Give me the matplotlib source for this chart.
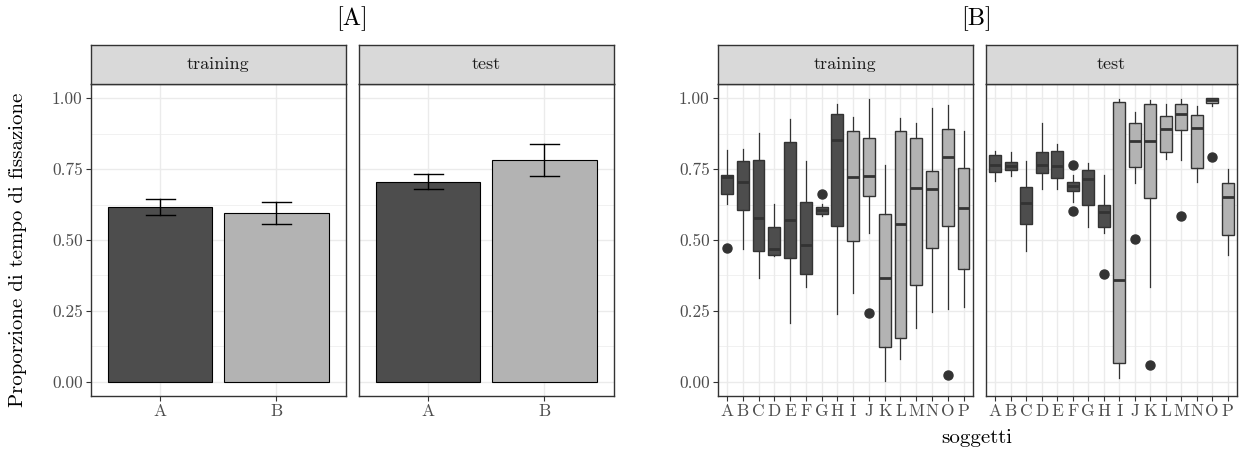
import matplotlib.pyplot as plt

plt.rcParams['font.family'] = ['cmr10', 'DejaVu Serif']
plt.rcParams['axes.formatter.use_mathtext'] = True

# [A] medie e intervalli
fasi = ['training', 'test']
gruppi = ['A', 'B']
medie = {'training': [0.618, 0.596], 'test': [0.705, 0.782]}
err_basso = {'training': [0.588, 0.556], 'test': [0.680, 0.726]}
err_alto = {'training': [0.645, 0.635], 'test': [0.731, 0.839]}

# [B] boxplot per soggetto
soggetti = list('ABCDEFGHIJKLMNOP')
gruppo_sogg = ['A'] * 8 + ['B'] * 8
box_train = {
    'whislo': [0.627, 0.469, 0.366, 0.442, 0.209, 0.335, 0.584, 0.240, 0.314, 0.525, 0.004, 0.082, 0.191, 0.246, 0.256, 0.264],
    'q1':     [0.662, 0.607, 0.460, 0.447, 0.438, 0.381, 0.592, 0.551, 0.495, 0.654, 0.121, 0.156, 0.342, 0.471, 0.549, 0.399],
    'med':    [0.722, 0.703, 0.577, 0.467, 0.570, 0.483, 0.607, 0.852, 0.723, 0.727, 0.366, 0.558, 0.682, 0.681, 0.791, 0.612],
    'q3':     [0.728, 0.780, 0.783, 0.545, 0.846, 0.633, 0.618, 0.945, 0.886, 0.858, 0.592, 0.883, 0.860, 0.744, 0.892, 0.753],
    'whishi': [0.816, 0.821, 0.877, 0.628, 0.927, 0.777, 0.628, 0.980, 0.933, 0.996, 0.764, 0.930, 0.914, 0.964, 0.977, 0.883],
    'fliers': [[0.472], [], [], [], [], [], [0.661], [], [], [0.243], [], [], [], [], [0.023], []],
}
box_test = {
    'whislo': [0.709, 0.725, 0.461, 0.681, 0.679, 0.633, 0.546, 0.525, 0.014, 0.701, 0.333, 0.785, 0.781, 0.705, 0.972, 0.447],
    'q1':     [0.739, 0.746, 0.555, 0.735, 0.717, 0.674, 0.623, 0.547, 0.067, 0.756, 0.648, 0.812, 0.887, 0.754, 0.984, 0.519],
    'med':    [0.764, 0.762, 0.630, 0.763, 0.760, 0.692, 0.716, 0.598, 0.360, 0.850, 0.850, 0.892, 0.944, 0.894, 0.994, 0.653],
    'q3':     [0.800, 0.776, 0.688, 0.811, 0.815, 0.703, 0.747, 0.624, 0.987, 0.913, 0.979, 0.938, 0.978, 0.941, 1.000, 0.701],
    'whishi': [0.815, 0.809, 0.780, 0.912, 0.839, 0.730, 0.771, 0.729, 0.996, 0.951, 0.992, 0.979, 0.996, 0.971, 1.000, 0.751],
    'fliers': [[], [], [], [], [], [0.764, 0.601], [], [0.379], [], [0.505], [0.059], [], [0.583], [], [0.791], []],
}
box_dati = {'training': box_train, 'test': box_test}

colori = {'A': '#4D4D4D', 'B': '#B3B3B3'}
W, H = 1239, 455
fig = plt.figure(figsize=(W / 100, H / 100), dpi=100)


def assi(x0, y0, x1, y1):
    return fig.add_axes([x0 / W, 1 - y1 / H, (x1 - x0) / W, (y1 - y0) / H])


def stile(ax, nomi, mostra_y):
    ax.set_ylim(-0.05, 1.05)
    ax.set_xlim(0.4, len(nomi) + 0.6)
    ax.set_xticks(range(1, len(nomi) + 1))
    ax.set_xticklabels(nomi)
    ax.set_yticks([0, 0.25, 0.5, 0.75, 1.0])
    ax.set_yticks([0.125, 0.375, 0.625, 0.875], minor=True)
    ax.set_xticks([], minor=True)
    ax.grid(True, which='major', color='#EBEBEB', lw=1.0, zorder=0)
    ax.grid(True, which='minor', axis='y', color='#EBEBEB', lw=0.5, zorder=0)
    ax.set_axisbelow(True)
    for s in ax.spines.values():
        s.set_color('#333333')
        s.set_linewidth(1.0)
    ax.tick_params(which='major', length=3.6, color='#333333', labelcolor='#4D4D4D',
                   labelsize=12.5, pad=2)
    ax.tick_params(which='minor', length=0)
    if mostra_y:
        ax.set_yticklabels(['0.00', '0.25', '0.50', '0.75', '1.00'])
    else:
        ax.tick_params(axis='y', which='major', length=0, labelleft=False)


def striscia(x0, x1, testo):
    s = assi(x0, 44.5, x1, 84)
    s.set_facecolor('#D9D9D9')
    s.set_xticks([])
    s.set_yticks([])
    for sp in s.spines.values():
        sp.set_color('#333333')
        sp.set_linewidth(1.0)
    s.text(0.5, 0.5, testo, ha='center', va='center', fontsize=13,
           color='#1A1A1A', transform=s.transAxes)


# pannello [A]
posA = {'training': (90.5, 346), 'test': (358.5, 614)}
for i, f in enumerate(fasi):
    x0, x1 = posA[f]
    ax = assi(x0, 84, x1, 396)
    xs = list(range(1, len(gruppi) + 1))
    ax.bar(xs, medie[f], width=0.9, color=[colori[g] for g in gruppi],
           edgecolor='black', linewidth=0.8, zorder=2)
    for x, lo, hi in zip(xs, err_basso[f], err_alto[f]):
        ax.plot([x, x], [lo, hi], color='black', lw=1.0, zorder=3)
        ax.plot([x - 0.125, x + 0.125], [lo, lo], color='black', lw=1.0, zorder=3)
        ax.plot([x - 0.125, x + 0.125], [hi, hi], color='black', lw=1.0, zorder=3)
    stile(ax, gruppi, i == 0)
    striscia(x0, x1, f)

# pannello [B]
posB = {'training': (717.5, 973), 'test': (986, 1237)}
for i, f in enumerate(fasi):
    x0, x1 = posB[f]
    ax = assi(x0, 84, x1, 396)
    d = box_dati[f]
    stats = []
    for k in range(len(soggetti)):
        stats.append({key: d[key][k] for key in ['whislo', 'q1', 'med', 'q3', 'whishi', 'fliers']})
    bp = ax.bxp(stats, positions=range(1, len(soggetti) + 1), widths=0.75,
                patch_artist=True, showfliers=True,
                boxprops=dict(edgecolor='#333333', linewidth=1.0),
                medianprops=dict(color='#333333', linewidth=2.0),
                whiskerprops=dict(color='#333333', linewidth=0.9),
                capprops=dict(linewidth=0),
                flierprops=dict(marker='o', markerfacecolor='#333333',
                                markeredgecolor='#333333', markersize=6.5))
    for patch, g in zip(bp['boxes'], gruppo_sogg):
        patch.set_facecolor(colori[g])
        patch.set_zorder(2)
    stile(ax, soggetti, i == 0)
    ax.set_xticklabels(soggetti)
    striscia(x0, x1, f)

fig.text(352 / W, 1 - 19 / H, '[A]', ha='center', va='center', fontsize=17.5)
fig.text(977 / W, 1 - 19 / H, '[B]', ha='center', va='center', fontsize=17.5)
fig.text(18 / W, 1 - 250 / H, 'Proporzione di tempo di fissazione', rotation=90,
         ha='center', va='center', fontsize=15)
fig.text(977 / W, 1 - 438 / H, 'soggetti', ha='center', va='center', fontsize=15)

fig.savefig('out.png', dpi=100)
